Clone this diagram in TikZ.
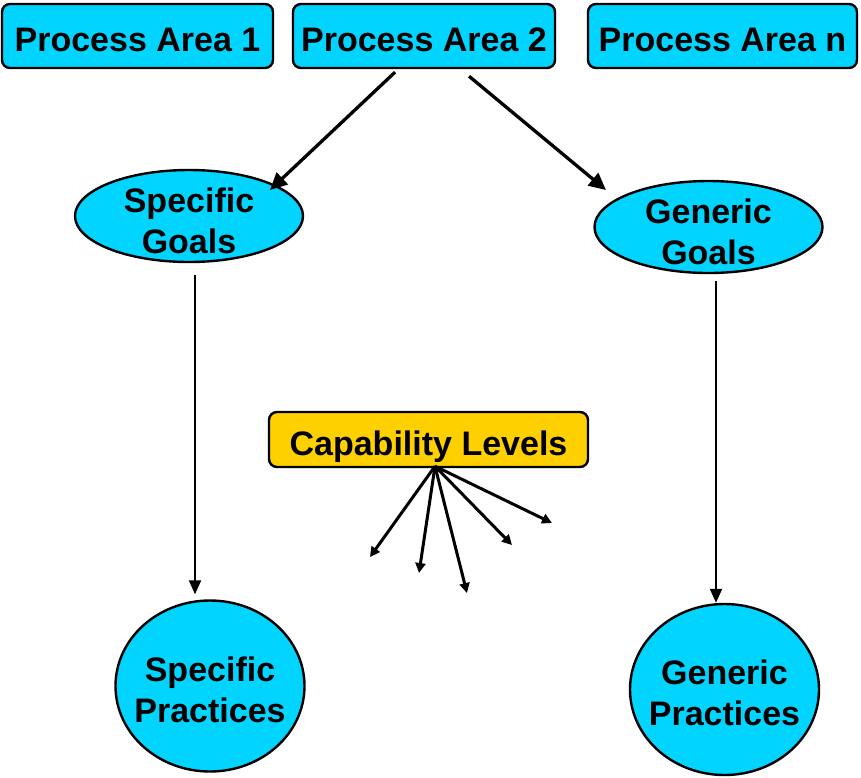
\documentclass[tikz,border=0pt]{standalone}
\usepackage{fontspec}
\setmainfont{Liberation Sans}
\usetikzlibrary{arrows.meta,calc,shapes.geometric}
\definecolor{cyanfill}{RGB}{0,212,255}
\definecolor{goldfill}{RGB}{255,208,0}
\tikzset{
  lbl/.style={font=\fontsize{34}{41}\selectfont\bfseries, align=center, inner sep=0pt},
  pabox/.style={lbl, draw=black, line width=2.4pt, fill=cyanfill, rounded corners=8pt, minimum height=64pt, text height=30pt, text depth=0pt},
  capbox/.style={lbl, draw=black, line width=2.4pt, fill=goldfill, rounded corners=8pt, minimum width=319pt, minimum height=55pt, text height=31pt, text depth=0pt},
  goal/.style={ellipse, draw=black, line width=2.4pt, fill=cyanfill, minimum width=228pt, minimum height=92pt, inner sep=0pt},
  prac/.style={ellipse, draw=black, line width=2.4pt, fill=cyanfill, minimum width=189pt, minimum height=171pt, inner sep=0pt},
  bigarrow/.style={line width=3.3pt, -{Triangle[length=17pt,width=16pt]}},
  vertarrow/.style={line width=2pt, -{Triangle[length=14pt,width=12pt]}},
  caparrow/.style={line width=3pt, -{Triangle[length=10pt,width=10pt]}},
}
\begin{document}
\begin{tikzpicture}[x=1pt,y=-1pt]
\useasboundingbox (0,0) rectangle (861,777);
\node[pabox, minimum width=271pt] (pa1) at (137.5,36) {Process Area 1};
\node[pabox, minimum width=262pt] (pa2) at (424,36) {Process Area 2};
\node[pabox, minimum width=269pt] (pan) at (722.5,36) {Process Area n};

\node[goal] (sg) at (189,216) {};
\node[lbl] at (189,221) {Specific\\Goals};
\node[goal] (gg) at (708.5,227) {};
\node[lbl] at (708.5,232) {Generic\\Goals};

\node[prac] (sp) at (210,686) {};
\node[lbl] at (210,690) {Specific\\Practices};
\node[prac] (gp) at (724.5,689.5) {};
\node[lbl] at (724.5,693) {Generic\\Practices};

\node[capbox] (cap) at (428.5,439.5) {Capability Levels};

\draw[bigarrow] ($(pa2.south)+(-29,3)$) -- ($(sg.center)+(81,-26)$);
\draw[bigarrow] ($(pa2.south)+(45,7)$) -- ($(gg.center)+(-102.5,-37)$);
\draw[vertarrow] ($(sg.center)+(6,59)$) -- ($(sp.north)+(-15,-5)$);
\draw[vertarrow] ($(gg.center)+(7.5,54)$) -- ($(gp.north)+(-8.5,0)$);

\coordinate (capo) at ($(cap.south)+(6.5,-2)$);
\coordinate (c1) at (370,557);
\coordinate (c2) at (419,573);
\coordinate (c3) at (467,593);
\coordinate (c4) at (512,545);
\coordinate (c5) at (552,523);
\foreach \c in {c1,c2,c3,c4,c5} \draw[caparrow] (capo) -- (\c);
\end{tikzpicture}
\end{document}
